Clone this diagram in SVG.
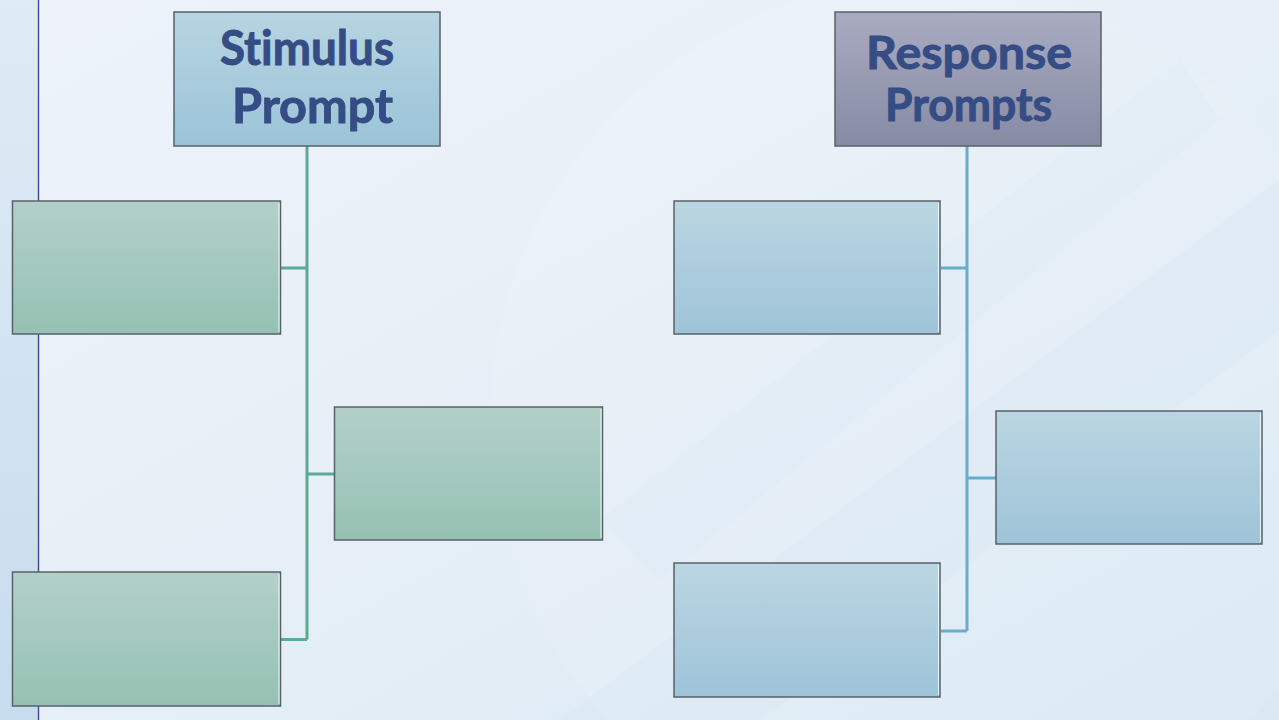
<svg xmlns="http://www.w3.org/2000/svg" width="1279" height="720" viewBox="0 0 1279 720">
<defs>
<linearGradient id="bg" x1="0" y1="0" x2="1" y2="1">
<stop offset="0" stop-color="#eef3fa"/>
<stop offset="0.5" stop-color="#e6eff7"/>
<stop offset="1" stop-color="#d9e8f3"/>
</linearGradient>
<linearGradient id="strip" x1="0" y1="0" x2="0" y2="1">
<stop offset="0" stop-color="#dfebf5"/>
<stop offset="1" stop-color="#c6dcee"/>
</linearGradient>
<linearGradient id="gHead" x1="0" y1="0" x2="0" y2="1">
<stop offset="0" stop-color="#b7d5e2"/>
<stop offset="1" stop-color="#9bc3d8"/>
</linearGradient>
<linearGradient id="gResp" x1="0" y1="0" x2="0" y2="1">
<stop offset="0" stop-color="#a9acc1"/>
<stop offset="1" stop-color="#868aa3"/>
</linearGradient>
<linearGradient id="gGreen" x1="0" y1="0" x2="0" y2="1">
<stop offset="0" stop-color="#b3d0c8"/>
<stop offset="1" stop-color="#95c1b3"/>
</linearGradient>
<linearGradient id="gBlue" x1="0" y1="0" x2="0" y2="1">
<stop offset="0" stop-color="#bbd6e2"/>
<stop offset="1" stop-color="#9ec3d8"/>
</linearGradient>
<style>
.box{stroke:#5a6068;stroke-width:1.5}
.green{fill:url(#gGreen)}
.blue{fill:url(#gBlue)}
.hl{stroke:#ffffff;stroke-opacity:0.7;stroke-width:1.2}
.title{font-family:"Lato","Noto Sans",sans-serif;font-weight:bold;fill:#354c84;stroke:#354c84;stroke-width:0.9;font-variant-ligatures:none}
.cg{fill:none;stroke:#5aaa94;stroke-width:3}
.cb{fill:none;stroke:#6aaccb;stroke-width:3}
</style>
</defs>
<rect x="0" y="0" width="1279" height="720" fill="url(#bg)"/>
<circle cx="930" cy="420" r="440" fill="#ffffff" fill-opacity="0.10"/>
<polygon points="560,720 1279,180 1279,330 760,720" fill="#d2e5f2" fill-opacity="0.22"/>
<polygon points="600,520 1180,60 1220,120 660,580" fill="#cfe3f0" fill-opacity="0.15"/>
<rect x="0" y="0" width="38" height="720" fill="url(#strip)"/>
<line x1="38.5" y1="0" x2="38.5" y2="720" stroke="#3a4a9c" stroke-width="1.4"/>
<g id="connectors">
<path class="cg" d="M307,146 V639.5 M281,268 H307 M307,474 H335 M281,639.5 H307"/>
<path class="cb" d="M967,146 V631 M941,268 H967 M967,478 H996 M941,631 H967"/>
</g>
<g id="stimulus">
<rect class="box" x="174" y="12" width="266" height="134" fill="url(#gHead)"/>
<text class="title" x="220" y="65" font-size="48" textLength="174" lengthAdjust="spacingAndGlyphs">Stimulus</text>
<text class="title" x="232" y="123" font-size="48" textLength="161" lengthAdjust="spacingAndGlyphs">Prompt</text>
</g>
<g id="response">
<rect class="box" x="835" y="12" width="266" height="134" fill="url(#gResp)"/>
<text class="title" x="866" y="69" font-size="45" textLength="206" lengthAdjust="spacingAndGlyphs">Response</text>
<text class="title" x="885" y="121" font-size="45" textLength="167" lengthAdjust="spacingAndGlyphs">Prompts</text>
</g>
<g id="green1">
<rect class="box green" x="12.5" y="201" width="268" height="133"/>
<line class="hl" x1="279" y1="203" x2="279" y2="332"/>
</g>
<g id="green2">
<rect class="box green" x="334.5" y="407" width="268" height="133"/>
<line class="hl" x1="601" y1="409" x2="601" y2="538"/>
</g>
<g id="green3">
<rect class="box green" x="12.5" y="572" width="268" height="134"/>
<line class="hl" x1="279" y1="574" x2="279" y2="704"/>
</g>
<g id="blue1">
<rect class="box blue" x="674" y="201" width="266" height="133"/>
<line class="hl" x1="938.5" y1="203" x2="938.5" y2="332"/>
</g>
<g id="blue2">
<rect class="box blue" x="996" y="411" width="266" height="133"/>
<line class="hl" x1="1260.5" y1="413" x2="1260.5" y2="542"/>
</g>
<g id="blue3">
<rect class="box blue" x="674" y="563" width="266" height="134"/>
<line class="hl" x1="938.5" y1="565" x2="938.5" y2="695"/>
</g>
</svg>
